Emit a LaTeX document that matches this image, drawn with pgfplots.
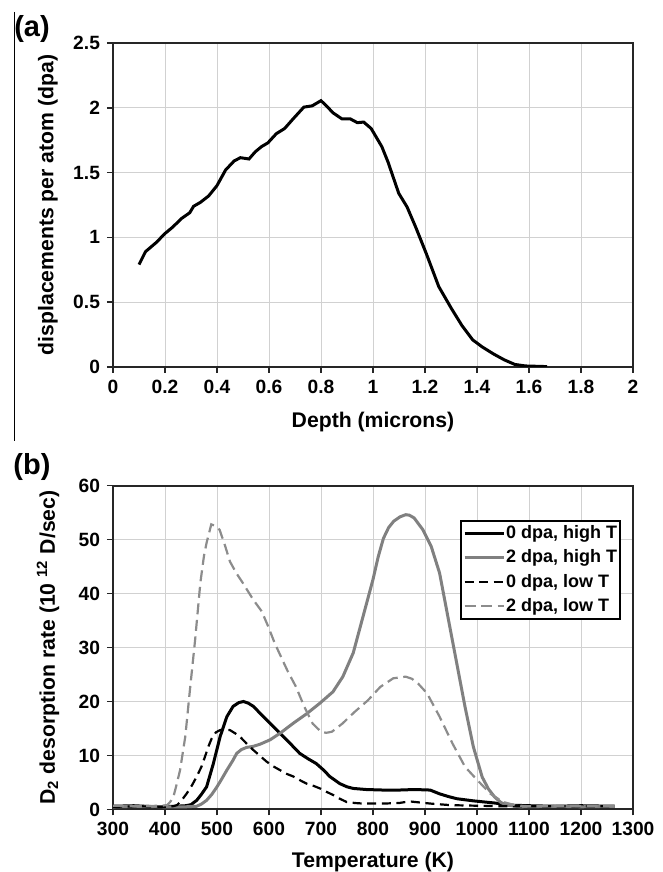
\documentclass[border=0pt]{standalone}
\usepackage{fontspec}
\setmainfont{Liberation Sans}[UprightFont={* Bold}]
\usepackage{pgfplots}
\pgfplotsset{compat=1.18}

\definecolor{gridc}{gray}{0.82}
\definecolor{midgray}{gray}{0.5}
\definecolor{dashgray}{gray}{0.55}

\newcommand{\tickfont}{\fontsize{9.6}{11}\selectfont}
\newcommand{\labfont}{\fontsize{10.6}{12}\selectfont}

\pgfplotsset{
  panel/.style={
    scale only axis, width=260pt, height=162pt,
    axis line style={line width=1pt, black!85},
    grid=major, major grid style={line width=0.5pt, gridc},
    tick align=outside, xtick pos=left, ytick pos=left,
    major tick length=3pt, tick style={line width=0.8pt, black!85},
    /pgf/number format/assume math mode=true,
    /pgf/number format/1000 sep={},
  }
}

\begin{document}
\begin{tikzpicture}
\useasboundingbox (0,0) rectangle (331.5pt,436pt);

% panel (a): damage profile
\begin{axis}[panel, at={(56.5pt,252.5pt)}, anchor=south west,
  xmin=0, xmax=2, ymin=0, ymax=2.5,
  xtick={0,0.2,...,2.01}, ytick={0,0.5,...,2.51},
  xticklabel style={font=\tickfont}, yticklabel style={font=\tickfont},
  xlabel={Depth (microns)},
  ylabel={displacements per atom (dpa)},
  xlabel style={font=\labfont, at={(axis description cs:0.5,-0.17)}, anchor=center},
  ylabel style={font=\labfont, at={(axis description cs:-0.125,0.5)}, anchor=center}]
\addplot[black, line width=1.5pt] coordinates {
(0.1,0.79) (0.125,0.89) (0.166,0.96) (0.2,1.03) (0.23,1.08) (0.263,1.145)
(0.295,1.19) (0.31,1.24) (0.336,1.27) (0.368,1.32) (0.4,1.40) (0.433,1.52)
(0.466,1.59) (0.49,1.615) (0.523,1.605) (0.547,1.66) (0.571,1.70) (0.596,1.73)
(0.628,1.80) (0.66,1.84) (0.693,1.915) (0.734,2.005) (0.766,2.015) (0.80,2.055)
(0.823,2.01) (0.847,1.96) (0.88,1.915) (0.912,1.915) (0.94,1.885) (0.964,1.89)
(0.993,1.84) (1.034,1.70) (1.058,1.58) (1.099,1.34) (1.131,1.235) (1.164,1.08)
(1.205,0.875) (1.253,0.62) (1.302,0.45) (1.342,0.32) (1.383,0.21) (1.42,0.155)
(1.464,0.10) (1.505,0.055) (1.545,0.02) (1.586,0.008) (1.67,0.003)
};
\end{axis}

% panel (b): TDS spectra
\begin{axis}[panel, at={(56.5pt,31.25pt)}, anchor=south west,
  xmin=300, xmax=1300, ymin=0, ymax=60,
  xtick={300,400,...,1300}, ytick={0,10,...,60},
  xticklabel style={font=\tickfont}, yticklabel style={font=\tickfont},
  xlabel={Temperature (K)},
  ylabel={D\textsubscript{2} desorption rate (10 \textsuperscript{12} D/sec)},
  xlabel style={font=\labfont, at={(axis description cs:0.5,-0.162)}, anchor=center},
  ylabel style={font=\labfont, at={(axis description cs:-0.125,0.5)}, anchor=center},
  legend style={at={(0.977,0.8935)}, anchor=north east, draw=black, line width=1pt,
    font=\fontsize{9}{10}\selectfont, row sep=2.1pt,
    inner xsep=1pt, inner ysep=1.3pt, nodes={inner xsep=0.5pt, inner ysep=1pt},
    cells={anchor=west}},
  legend image code/.code={\draw[#1] (0pt,0pt) -- (19.5pt,0pt);}]
\addplot[black, line width=1.5pt] coordinates {
(300,0.6) (340,0.7) (380,0.5) (420,0.6) (440,0.7) (450,0.9) (461,1.7) (470,2.8)
(480,4.2) (493,8.5) (506,13.5) (519,17.2) (531,19.1) (542,19.8) (551,20.0)
(560,19.7) (570,19.1) (589,17.2) (608,15.4) (634,12.9) (659,10.4) (675,9.4)
(691,8.5) (705,7.3) (717,6.1) (736,4.8) (750,4.2) (762,3.9) (787,3.7) (820,3.6)
(850,3.6) (880,3.7) (910,3.6) (928,2.9) (945,2.4) (961,2.0) (993,1.6) (1034,1.2)
(1066,0.8) (1100,0.7) (1150,0.6) (1200,0.7) (1265,0.6)
};
\addlegendentry{0 dpa, high T}
\addplot[midgray, line width=1.5pt] coordinates {
(300,0.5) (350,0.6) (400,0.5) (440,0.5) (461,0.6) (470,1.0) (480,1.7) (490,2.8)
(500,4.2) (510,5.8) (519,7.3) (530,9.0) (538,10.4) (547,11.1) (557,11.5)
(570,11.7) (583,12.1) (602,12.9) (621,14.1) (647,16.0) (672,17.7) (698,19.7)
(723,21.8) (742,24.6) (762,29.0) (781,35.8) (800,42.6) (810,46.8) (820,50.2)
(830,52.2) (840,53.4) (852,54.2) (863,54.6) (870,54.5) (879,54.0) (896,51.8)
(912,48.7) (928,43.8) (944,35.7) (961,27.1) (977,19.0) (993,11.6) (1010,6.0)
(1022,3.8) (1034,2.3) (1046,1.3) (1058,0.8) (1083,0.5) (1150,0.6) (1200,0.5)
(1265,0.6)
};
\addlegendentry{2 dpa, high T}
\addplot[black, line width=1.1pt, dash pattern=on 4.5pt off 2.8pt] coordinates {
(300,0.5) (350,0.6) (400,0.5) (415,0.6) (423,0.8) (432,1.7) (442,3.0) (452,4.5)
(461,6.1) (470,7.9) (477,9.8) (484,11.8) (490,13.2) (498,14.3) (506,14.7)
(515,14.8) (525,14.7) (535,14.1) (544,13.5) (557,12.2) (570,11.0) (583,9.9)
(595,8.9) (608,8.0) (621,7.3) (634,6.6) (647,6.1) (660,5.4) (672,4.8) (685,4.4)
(698,3.9) (710,3.3) (723,2.7) (736,2.0) (749,1.4) (765,1.2) (781,1.1) (820,1.1)
(850,1.2) (870,1.5) (890,1.3) (910,1.1) (950,0.8) (1000,0.7) (1050,0.6) (1265,0.6)
};
\addlegendentry{0 dpa, low T}
\addplot[dashgray, line width=1.1pt, dash pattern=on 5.5pt off 2.8pt] coordinates {
(300,0.7) (350,0.6) (390,0.7) (404,0.8) (410,1.4) (416,2.3) (422,4.5) (429,7.3)
(439,13.5) (448,22.2) (458,31.5) (468,42.0) (475,47.0) (480,49.4) (489,52.8)
(497,52.5) (505,51.8) (515,49.0) (525,45.9) (537,43.8) (550,41.9) (570,38.8)
(586,36.7) (598,34.0) (611,30.8) (623,28.3) (635,25.8) (652,22.7) (668,19.0)
(684,15.9) (700,14.4) (710,14.2) (721,14.4) (741,15.9) (765,18.1) (790,20.2)
(814,22.7) (839,24.3) (863,24.6) (875,24.2) (887,23.3) (904,21.5) (928,17.2)
(953,12.2) (977,7.9) (1001,5.4) (1026,2.9) (1050,1.4) (1075,0.75) (1100,0.6)
(1150,0.7) (1265,0.6)
};
\addlegendentry{2 dpa, low T}
\end{axis}

\node[font=\fontsize{14.5}{16}\selectfont] at (16pt,421.5pt) {(a)};
\node[font=\fontsize{14.5}{16}\selectfont] at (16pt,202.5pt) {(b)};
\draw[line width=0.6pt] (7.35pt,430pt) -- (7.35pt,215.5pt);
\end{tikzpicture}
\end{document}
